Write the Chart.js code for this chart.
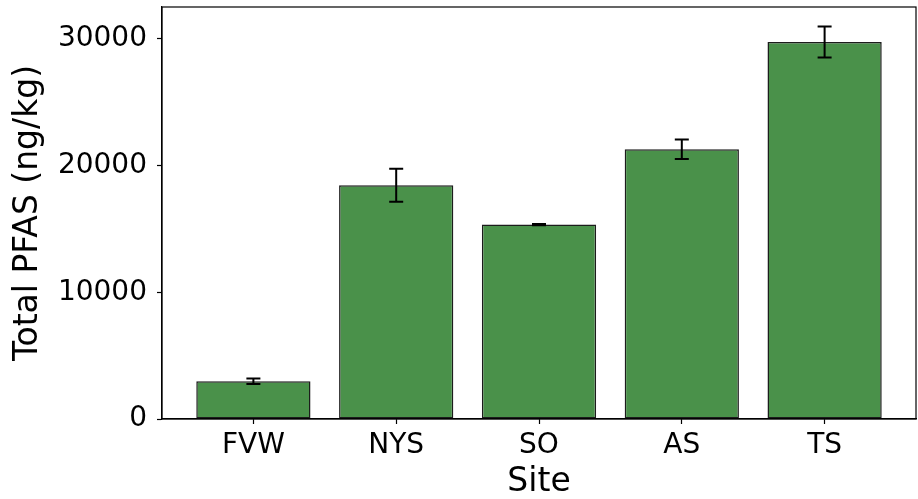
<!DOCTYPE html>
<html>
<head>
<meta charset="utf-8">
<title>Total PFAS by Site</title>
<script src="https://cdn.jsdelivr.net/npm/chart.js@4.4.1/dist/chart.umd.min.js"></script>
<style>
  html, body { margin: 0; padding: 0; background: #ffffff; }
  #chart { display: block; }
</style>
</head>
<body>
<canvas id="chart" width="918" height="499"></canvas>
<script>
// Sites sampled and their total PFAS concentration (ng/kg) with the standard deviation
const sites = ['FVW', 'NYS', 'SO', 'AS', 'TS'];
const totals = [2980, 18450, 15350, 21300, 29750];
const errors = [210, 1300, 50, 770, 1220];
const yTicks = [0, 10000, 20000, 30000];

const FONT = 'DejaVu Sans, Liberation Sans, sans-serif';

// Upper limit leaves a 5% headroom above the tallest error bar
const yMax = Math.max(...totals.map((v, i) => v + errors[i])) * 1.05;

// Vertical error bars with caps, centred on each bar
const errorBars = {
  id: 'errorBars',
  afterDatasetsDraw(chart) {
    const { ctx, scales: { x, y } } = chart;
    ctx.save();
    ctx.strokeStyle = '#000000';
    ctx.lineWidth = 2;
    const cap = 7;
    totals.forEach((v, i) => {
      const px = x.getPixelForValue(i);
      const lo = y.getPixelForValue(v - errors[i]);
      const hi = y.getPixelForValue(v + errors[i]);
      ctx.beginPath();
      ctx.moveTo(px, lo); ctx.lineTo(px, hi);
      ctx.moveTo(px - cap, lo); ctx.lineTo(px + cap, lo);
      ctx.moveTo(px - cap, hi); ctx.lineTo(px + cap, hi);
      ctx.stroke();
    });
    ctx.restore();
  }
};

// Closed frame around the plotting area
const frame = {
  id: 'frame',
  afterDraw(chart) {
    const { ctx, chartArea: a } = chart;
    ctx.save();
    ctx.strokeStyle = '#000000';
    ctx.lineWidth = 1.2;
    ctx.strokeRect(a.left, a.top, a.right - a.left, a.bottom - a.top);
    ctx.restore();
  }
};

new Chart(document.getElementById('chart'), {
  type: 'bar',
  data: {
    datasets: [{
      data: sites.map((s, i) => ({ x: i, y: totals[i] })),
      backgroundColor: '#4a914a',
      borderColor: '#1c1c1c',
      borderWidth: 1.5,
      borderSkipped: false,
      categoryPercentage: 1,
      barPercentage: 0.8
    }]
  },
  options: {
    responsive: false,
    animation: false,
    devicePixelRatio: 1,
    layout: { padding: { top: 7, right: 2, left: 0, bottom: 0 } },
    plugins: {
      legend: { display: false },
      tooltip: { enabled: false },
      title: { display: false }
    },
    scales: {
      x: {
        type: 'linear',
        offset: false,
        min: -0.64,
        max: sites.length - 1 + 0.64,
        afterBuildTicks(s) { s.ticks = sites.map((_, i) => ({ value: i })); },
        afterFit(s) { s.height = 80; s.paddingLeft = 0; s.paddingRight = 0; },
        grid: { display: true, offset: false, drawOnChartArea: false, drawTicks: true, tickLength: 5, tickColor: '#000000', tickWidth: 1.2 },
        border: { display: true, color: '#000000', width: 1.2 },
        ticks: {
          autoSkip: false,
          maxRotation: 0,
          padding: 5,
          color: '#000000',
          font: { family: FONT, size: 28 },
          callback: (v) => sites[v]
        },
        title: {
          display: true,
          text: 'Site',
          color: '#000000',
          font: { family: FONT, size: 33, lineHeight: 1 },
          padding: { top: 0, bottom: 0 }
        }
      },
      y: {
        min: 0,
        max: yMax,
        afterBuildTicks(s) { s.ticks = yTicks.map(v => ({ value: v })); },
        afterFit(s) { s.width = 162; s.paddingTop = 0; s.paddingBottom = 0; },
        grid: { display: true, drawOnChartArea: false, drawTicks: true, tickLength: 5, tickColor: '#000000', tickWidth: 1.2 },
        border: { display: true, color: '#000000', width: 1.2 },
        ticks: {
          padding: 10,
          color: '#000000',
          font: { family: FONT, size: 28 },
          callback: (v) => String(v)
        },
        title: {
          display: true,
          text: 'Total PFAS (ng/kg)',
          color: '#000000',
          font: { family: FONT, size: 33, lineHeight: 1.2 },
          padding: { top: 9, bottom: 0 }
        }
      }
    }
  },
  plugins: [errorBars, frame]
});
</script>
</body>
</html>
